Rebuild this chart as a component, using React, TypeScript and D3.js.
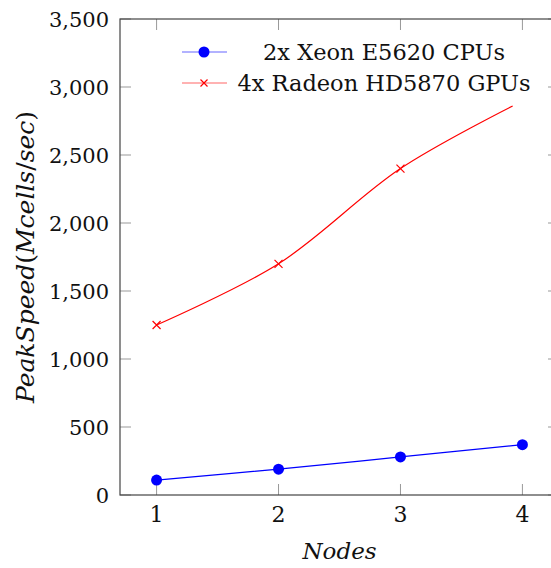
import { useEffect, useRef } from 'react';
import * as d3 from 'd3';

const cpuNodes = [1, 2, 3, 4];
const cpuSpeed = [110, 190, 280, 370];
const gpuNodes = [1, 2, 3, 3.92];
const gpuSpeed = [1250, 1700, 2400, 2860];
const xTicks = [1, 2, 3, 4];
const yTicks = [0, 500, 1000, 1500, 2000, 2500, 3000, 3500];
const seriesNames = ['2x Xeon E5620 CPUs', '4x Radeon HD5870 GPUs'];

const App = () => {
  const ref = useRef<SVGSVGElement>(null);

  useEffect(() => {
    const width = 551;
    const height = 568;
    const left = 120, right = 559, top = 19, bottom = 495;
    const font = 'DejaVu Serif';

    const svg = d3.select(ref.current);
    svg.selectAll('*').remove();
    svg.attr('width', width).attr('height', height).style('font-family', font);

    const x = d3.scaleLinear().domain([0.7, 4.3]).range([left, right]);
    const y = d3.scaleLinear().domain([0, 3500]).range([bottom, top]);

    // ticks (inward, both sides)
    const g = svg.append('g');
    xTicks.forEach(t => {
      g.append('line').attr('x1', x(t)).attr('x2', x(t)).attr('y1', bottom).attr('y2', bottom - 11)
        .attr('stroke', '#999').attr('stroke-width', 1);
      g.append('line').attr('x1', x(t)).attr('x2', x(t)).attr('y1', top).attr('y2', top + 11)
        .attr('stroke', '#999').attr('stroke-width', 1);
      g.append('text').attr('x', x(t)).attr('y', bottom + 27).attr('text-anchor', 'middle')
        .attr('font-size', 22).attr('fill', '#111').text(t);
    });
    yTicks.forEach(t => {
      g.append('line').attr('x1', left).attr('x2', left + 11).attr('y1', y(t)).attr('y2', y(t))
        .attr('stroke', '#999').attr('stroke-width', 1);
      g.append('line').attr('x1', right).attr('x2', right - 11).attr('y1', y(t)).attr('y2', y(t))
        .attr('stroke', '#999').attr('stroke-width', 1);
      g.append('text').attr('x', left - 11).attr('y', y(t)).attr('dy', '0.36em').attr('text-anchor', 'end')
        .attr('font-size', 21).attr('fill', '#111').text(d3.format(',')(t));
    });

    svg.append('rect').attr('x', left).attr('y', top).attr('width', right - left).attr('height', bottom - top)
      .attr('fill', 'none').attr('stroke', '#444').attr('stroke-width', 1.2);

    const line = d3.line<[number, number]>()
      .x(d => x(d[0]))
      .y(d => y(d[1]))
      .curve(d3.curveCatmullRom.alpha(0.5));

    const cpu: [number, number][] = cpuNodes.map((n, i) => [n, cpuSpeed[i]]);
    const gpu: [number, number][] = gpuNodes.map((n, i) => [n, gpuSpeed[i]]);

    svg.append('path').datum(cpu).attr('d', line).attr('fill', 'none').attr('stroke', 'blue').attr('stroke-width', 1.2);
    svg.append('path').datum(gpu).attr('d', line).attr('fill', 'none').attr('stroke', 'red').attr('stroke-width', 1.2);

    svg.selectAll('.cpu-dot').data(cpu).enter().append('circle')
      .attr('cx', d => x(d[0])).attr('cy', d => y(d[1])).attr('r', 5.5).attr('fill', 'blue');

    const cross = (gg: any, cx: number, cy: number, s: number) => {
      gg.append('path')
        .attr('d', `M${cx - s},${cy - s}L${cx + s},${cy + s}M${cx - s},${cy + s}L${cx + s},${cy - s}`)
        .attr('stroke', 'red').attr('stroke-width', 1.2);
    };
    gpu.filter(d => Number.isInteger(d[0])).forEach(d => cross(svg, x(d[0]), y(d[1]), 4));

    // legend
    const lg = svg.append('g');
    const rows = [52, 83];
    lg.append('line').attr('x1', 182).attr('x2', 227).attr('y1', rows[0]).attr('y2', rows[0])
      .attr('stroke', 'blue').attr('stroke-width', 1.2).attr('opacity', 0.6);
    lg.append('circle').attr('cx', 204).attr('cy', rows[0]).attr('r', 5.5).attr('fill', 'blue');
    lg.append('line').attr('x1', 182).attr('x2', 227).attr('y1', rows[1]).attr('y2', rows[1])
      .attr('stroke', 'red').attr('stroke-width', 1.2).attr('opacity', 0.6);
    cross(lg, 204, rows[1], 3.5);
    seriesNames.forEach((s, i) => {
      lg.append('text').attr('x', 384).attr('y', rows[i]).attr('dy', '0.36em').attr('text-anchor', 'middle')
        .attr('font-size', 22.5).attr('fill', '#111').text(s);
    });

    // axis titles
    svg.append('text').attr('x', (left + right) / 2).attr('y', 559).attr('text-anchor', 'middle')
      .attr('font-style', 'italic').attr('font-size', 23).attr('fill', '#111')
      .text('Nodes');
    const yl = svg.append('text').attr('transform', `translate(34,257) rotate(-90)`).attr('text-anchor', 'middle')
      .attr('font-size', 25).attr('fill', '#111');
    yl.append('tspan').attr('font-style', 'italic').text('PeakSpeed');
    yl.append('tspan').text('(');
    yl.append('tspan').attr('font-style', 'italic').text('Mcells');
    yl.append('tspan').text('/');
    yl.append('tspan').attr('font-style', 'italic').text('sec');
    yl.append('tspan').text(')');
  }, []);

  return <svg ref={ref} style={{ position: 'absolute', left: 0, top: 0 }}></svg>;
};

export default App;
